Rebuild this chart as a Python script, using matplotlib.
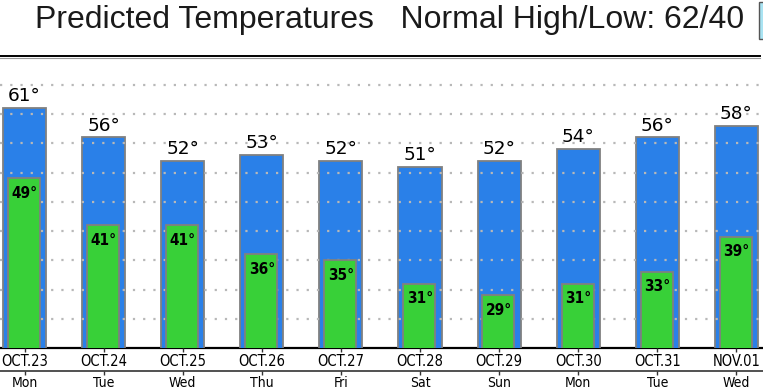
import matplotlib
matplotlib.use("Agg")
import matplotlib.pyplot as plt
from matplotlib.lines import Line2D
from matplotlib.patches import Rectangle
from matplotlib import font_manager as fm

dates = ["OCT.23", "OCT.24", "OCT.25", "OCT.26", "OCT.27", "OCT.28", "OCT.29", "OCT.30", "OCT.31", "NOV.01"]
days = ["Mon", "Tue", "Wed", "Thu", "Fri", "Sat", "Sun", "Mon", "Tue", "Wed"]
highs = [61, 56, 52, 53, 52, 51, 52, 54, 56, 58]
lows = [49, 41, 41, 36, 35, 31, 29, 31, 33, 39]
title = "Predicted Temperatures   Normal High/Low: 62/40"

W, H = 763, 390
fig = plt.figure(figsize=(W / 100, H / 100), dpi=100)

cond = fm.FontProperties(family="DejaVu Sans", stretch="condensed")
cond_path = fm.findfont(cond)
has_cond = "Condensed" in cond_path

def fx(px):
    return px / W

def fy(py):
    return 1 - py / H

base_px, top_px = 348, 60
ymin = 20
kpx = 5.85
ymax = ymin + (base_px - top_px) / kpx
ax = fig.add_axes([0, fy(base_px), 1, (base_px - top_px) / H])

x = list(range(len(dates)))
left_px, step_px = 24.5, 79.1
ax.set_xlim(-left_px / step_px, (W - left_px) / step_px)
ax.set_ylim(ymin, ymax)

blue = "#2a80e8"
green = "#38d038"
edge = "#808080"

ax.bar(x, highs, width=0.545, color=blue, edgecolor=edge, linewidth=1.3, zorder=1)
ax.bar([i - 0.008 for i in x], lows, width=0.405, color=green, edgecolor=edge, linewidth=1.3, zorder=2)

ax.set_yticks(list(range(25, 70, 5)))
ax.tick_params(axis="y", left=False, labelleft=False)
ax.grid(axis="y", color="#b8b8b8", linestyle=(0, (1, 3.6)), linewidth=1.6)
ax.set_axisbelow("line")

for s in ["top", "right", "left", "bottom"]:
    ax.spines[s].set_visible(False)
ax.axhline(ymin, color="black", linewidth=1.6, zorder=0.5, clip_on=False)

if has_cond:
    date_kw = dict(fontsize=10.5, fontstretch="condensed")
    day_kw = dict(fontsize=10, fontstretch="condensed")
    low_kw = dict(fontsize=11, fontweight="bold", fontstretch="condensed")
else:
    date_kw = dict(fontsize=8.8)
    day_kw = dict(fontsize=9)
    low_kw = dict(fontsize=10.3, fontweight="bold")

ax.set_xticks(x)
ax.set_xticklabels(dates, **date_kw)
ax.tick_params(axis="x", direction="out", length=3, width=1, pad=1.5, color="#333333")

sec = ax.secondary_xaxis(-0.08)
sec.set_xticks(x)
sec.set_xticklabels(days, **day_kw)
sec.tick_params(axis="x", direction="out", length=3, width=1, pad=0.5, color="#333333")
sec.spines["bottom"].set_color("#333333")
sec.spines["bottom"].set_linewidth(1.2)

for i, (hv, lv) in enumerate(zip(highs, lows)):
    ax.annotate(f"{hv}°", (i, hv), xytext=(0, 2), textcoords="offset points",
                ha="center", va="bottom", fontsize=13.3, color="black", zorder=5)
    ax.annotate(f"{lv}°", (i, lv), xytext=(0, -10.8), textcoords="offset points",
                ha="center", va="center", color="black", zorder=5, **low_kw)

fig.text(fx(35), fy(28), title, fontsize=23, family=["Liberation Sans", "DejaVu Sans"],
         color="#1a1a1a", ha="left", va="baseline")

fig.add_artist(Line2D([0, fx(760)], [fy(56), fy(56)], color="black", linewidth=1.4))
fig.add_artist(Line2D([0, fx(760)], [fy(57.6), fy(57.6)], color="#999999", linewidth=0.8))
fig.add_artist(Rectangle((fx(759), fy(39)), fx(10), 37 / H, facecolor="#a9e3f2",
                         edgecolor="#555555", linewidth=1))

fig.savefig("out.png", dpi=100)
